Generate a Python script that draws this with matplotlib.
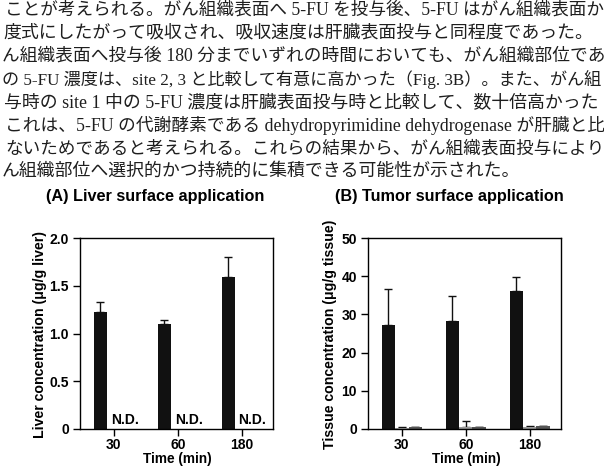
import numpy as np
import matplotlib
matplotlib.use('Agg')
from matplotlib import pyplot as plt

# body text above the figure (scanned page, only the visible part)
text_lines = [
    'ことが考えられる。がん組織表面へ 5-FU を投与後、5-FU はがん組織表面か',
    '度式にしたがって吸収され、吸収速度は肝臓表面投与と同程度であった。',
    'ん組織表面へ投与後 180 分までいずれの時間においても、がん組織部位であ',
    'の 5-FU 濃度は、site 2, 3 と比較して有意に高かった（Fig. 3B）。また、がん組',
    '与時の site 1 中の 5-FU 濃度は肝臓表面投与時と比較して、数十倍高かった',
    'これは、5-FU の代謝酵素である dehydropyrimidine dehydrogenase が肝臓と比',
    'ないためであると考えられる。これらの結果から、がん組織表面投与により',
    'ん組織部位へ選択的かつ持続的に集積できる可能性が示された。',
]
text_x = [5, 3, 2, 2, 4, 5, 5, 2]

times = ['30', '60', '180']

# (A) liver surface application: site 1, sites 2/3 not detected
liver_site1 = [1.22, 1.10, 1.59]
liver_site1_err = [0.11, 0.04, 0.21]

# (B) tumor surface application
tissue_site1 = [27.1, 28.2, 36.2]
tissue_site1_err = [9.5, 6.7, 3.6]
tissue_site2 = [0.3, 0.6, 0.6]
tissue_site2_err = [0.2, 1.4, 0.3]
tissue_site3 = [0.5, 0.4, 0.8]
tissue_site3_err = [0.1, 0.1, 0.1]

plt.rcParams['font.family'] = ['Liberation Sans', 'DejaVu Sans']
plt.rcParams['font.weight'] = 'bold'

W, H = 604, 466
fig = plt.figure(figsize=(W / 100, H / 100), dpi=100)
renderer = fig.canvas.get_renderer()

for i, line in enumerate(text_lines):
    t = fig.text(text_x[i] / W, 1 - (10 + 23.1 * i) / H, line,
                 family=['Liberation Serif', 'Noto Sans CJK JP'], weight='normal',
                 fontsize=12.9, color='#1e1e1e', ha='left', va='center')
    # shrink lines that would run past the right edge
    bb = t.get_window_extent(renderer)
    if bb.x1 > W - 2:
        t.set_fontsize(12.9 * (W - 2 - bb.x0) / bb.width)

x = np.arange(len(times))
bw = 0.21


def style_axes(ax, ymax, yticks, yticklabels):
    ax.set_xlim(-0.53, 2.49)
    ax.set_ylim(0, ymax)
    ax.set_xticks(x)
    ax.set_xticklabels(times)
    ax.set_yticks(yticks)
    ax.set_yticklabels(yticklabels)
    ax.tick_params(axis='both', direction='out', length=5, width=1,
                   labelsize=10, pad=3)
    ax.tick_params(axis='x', pad=1.5)
    for s in ax.spines.values():
        s.set_linewidth(1)


axA = fig.add_axes([80 / W, 37 / H, 193 / W, 191 / H])
axA.bar(x - bw, liver_site1, bw, color='#111111', zorder=2)
axA.errorbar(x - bw, liver_site1, yerr=[np.zeros(3), liver_site1_err],
             fmt='none', ecolor='#111111', elinewidth=1, capsize=3, zorder=1)
for xi in x:
    axA.text(xi + 0.17, 0.025, 'N.D.', ha='center', va='bottom',
             fontsize=10, weight='bold')
style_axes(axA, 2.0, [0, 0.5, 1.0, 1.5, 2.0], ['0', '0.5', '1.0', '1.5', '2.0'])

axB = fig.add_axes([368 / W, 37 / H, 193 / W, 191 / H])
axB.bar(x - bw, tissue_site1, bw, color='#111111', zorder=2)
axB.bar(x, tissue_site2, bw, color='#9a9a9a', zorder=2)
axB.bar(x + bw, tissue_site3, bw, color='#555555', zorder=2)
axB.errorbar(x - bw, tissue_site1, yerr=[np.zeros(3), tissue_site1_err],
             fmt='none', ecolor='#111111', elinewidth=1, capsize=3, zorder=1)
axB.errorbar(x, tissue_site2, yerr=[np.zeros(3), tissue_site2_err],
             fmt='none', ecolor='#111111', elinewidth=1, capsize=3, zorder=1)
axB.errorbar(x + bw, tissue_site3, yerr=[np.zeros(3), tissue_site3_err],
             fmt='none', ecolor='#111111', elinewidth=1, capsize=3, zorder=1)
style_axes(axB, 50, [0, 10, 20, 30, 40, 50], ['0', '10', '20', '30', '40', '50'])

fig.text(155 / W, 1 - 196 / H, '(A) Liver surface application',
         ha='center', va='center', fontsize=11.7, weight='bold')
fig.text(449 / W, 1 - 196 / H, '(B) Tumor surface application',
         ha='center', va='center', fontsize=11.7, weight='bold')

fig.text(40 / W, 1 - 334 / H, 'Liver concentration (μg/g liver)',
         rotation=90, ha='center', va='center', fontsize=10.2, weight='bold')
fig.text(330 / W, 1 - 334 / H, 'Tissue concentration (μg/g tissue)',
         rotation=90, ha='center', va='center', fontsize=10.2, weight='bold')

fig.text(177 / W, 1 - 462.5 / H, 'Time (min)', ha='center', va='baseline',
         fontsize=9.8, weight='bold')
fig.text(466 / W, 1 - 462.5 / H, 'Time (min)', ha='center', va='baseline',
         fontsize=9.8, weight='bold')

fig.savefig('out.png', dpi=100)
